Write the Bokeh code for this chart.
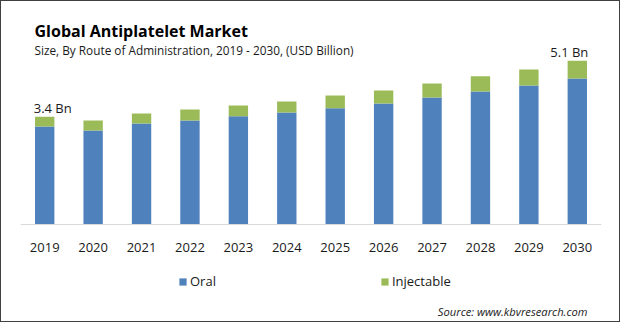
from bokeh.plotting import figure
from bokeh.models import Label, Legend, LegendItem, Range1d
from bokeh.embed import file_html
from bokeh.resources import INLINE

years = ["2019", "2020", "2021", "2022", "2023", "2024", "2025", "2026", "2027", "2028", "2029", "2030"]
oral = [3.06, 2.94, 3.16, 3.25, 3.38, 3.50, 3.63, 3.78, 3.97, 4.16, 4.34, 4.56]
injectable = [0.31, 0.31, 0.31, 0.34, 0.34, 0.34, 0.40, 0.41, 0.44, 0.47, 0.50, 0.56]
series = ["Oral", "Injectable"]
colors = ["#4f81bd", "#9bbb59"]
title_text = "Global Antiplatelet Market"
subtitle_text = "Size, By Route of Administration, 2019 - 2030, (USD Billion)"
source_text = "Source: www.kbvresearch.com"
first_label = "3.4 Bn"
last_label = "5.1 Bn"

FONT = "Open Sans"
W, H = 620, 322
FL = 19                  # frame left in canvas px
BASE = 223               # canvas y of the value 0
PX_PER_UNIT = 32.0

p = figure(x_range=years, width=W, height=H, output_backend="svg", toolbar_location=None,
           min_border_left=FL, min_border_right=20, min_border_top=0, min_border_bottom=0)
p.y_range = Range1d(-(H - BASE) / PX_PER_UNIT, BASE / PX_PER_UNIT)

data = {"years": years, "Oral": oral, "Injectable": injectable}
rs = p.vbar_stack(series, x="years", width=0.4, color=colors, source=data, line_width=0)

p.yaxis.visible = False
p.grid.visible = False
p.outline_line_color = None
p.xaxis.fixed_location = 0
p.xaxis.axis_line_color = "#d9d9d9"
p.xaxis.major_tick_line_color = None
p.xaxis.minor_tick_line_color = None
p.xaxis.major_label_text_font = FONT
p.xaxis.major_label_text_font_size = "13px"
p.xaxis.major_label_text_color = "#1a1a1a"
p.xaxis.major_label_standoff = 12
p.x_range.range_padding = 0

tot0 = oral[0] + injectable[0]
totn = oral[-1] + injectable[-1]
x0 = 0 + 0.5
xn = len(years) - 1 + 0.5
p.add_layout(Label(x=x0, y=tot0, text=first_label, x_offset=8, y_offset=9,
                   text_align="center", text_baseline="alphabetic", text_font=FONT,
                   text_font_size="13px", text_color="#1a1a1a"))
p.add_layout(Label(x=xn, y=totn, text=last_label, x_offset=-8, y_offset=9,
                   text_align="center", text_baseline="alphabetic", text_font=FONT,
                   text_font_size="13px", text_color="#1a1a1a"))

def sx(c):
    return c - FL

def sy(c):
    return H - c

p.add_layout(Label(x=sx(33), y=sy(29), x_units="screen", y_units="screen", text=title_text,
                   text_font=FONT, text_font_size="16px", text_font_style="bold",
                   text_color="#000000", text_baseline="alphabetic"))
p.add_layout(Label(x=sx(33), y=sy(48), x_units="screen", y_units="screen", text=subtitle_text,
                   text_font=FONT, text_font_size="11.8px",
                   text_color="#1a1a1a", text_baseline="alphabetic"))
p.add_layout(Label(x=sx(586), y=sy(310), x_units="screen", y_units="screen", text=source_text,
                   text_font=FONT, text_font_size="11.2px", text_font_style="italic",
                   text_color="#1a1a1a", text_baseline="alphabetic", text_align="right"))

legend = Legend(items=[LegendItem(label=s, renderers=[r]) for s, r in zip(series, rs)],
                orientation="horizontal", location=(sx(177), sy(289)), spacing=164,
                glyph_width=9, glyph_height=9, label_standoff=3,
                label_text_font=FONT, label_text_font_size="13px", label_text_color="#1a1a1a",
                border_line_color=None, background_fill_alpha=0, padding=0, margin=0)
p.add_layout(legend, "center")

p.styles = {"border": "1px solid #404040", "box-sizing": "border-box"}

open("out.html", "w").write(file_html(p, INLINE))
